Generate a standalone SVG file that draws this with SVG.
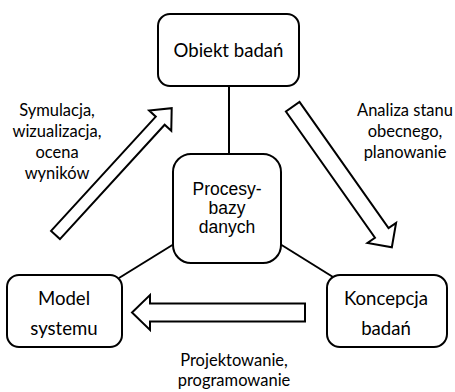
<svg xmlns="http://www.w3.org/2000/svg" width="455" height="392" viewBox="0 0 455 392">
  <style>
    .box { fill: #ffffff; stroke: #000000; stroke-width: 2; }
    .link { stroke: #000000; stroke-width: 2; fill: none; }
    .flow { fill: #ffffff; stroke: #000000; stroke-width: 2; stroke-linejoin: miter; }
    .lbl { font-family: Lato, "Liberation Sans", sans-serif; font-size: 16.5px; fill: #000000; text-anchor: middle; }
    .name { font-family: Lato, "Liberation Sans", sans-serif; font-size: 18.6px; fill: #000000; text-anchor: middle; }
    .core { font-family: "Liberation Sans", Arial, sans-serif; font-size: 17.5px; fill: #000000; text-anchor: middle; }
  </style>

  <g id="connectors">
    <line class="link" x1="229" y1="86" x2="229" y2="154"/>
    <line class="link" x1="174" y1="244" x2="119" y2="278"/>
    <line class="link" x1="280" y1="244" x2="333" y2="277"/>
  </g>

  <!-- block arrows, each drawn along +x from its tail and then turned into place -->
  <g id="flows">
    <polygon class="flow" transform="translate(55.5,235) rotate(-47.5)" points="0,-6 155,-6 155,-15 172,0 155,15 155,6 0,6"/>
    <polygon class="flow" transform="translate(292.7,106.7) rotate(54.8)" points="0,-8.3 154.5,-8.3 154.5,-17.5 172,0 154.5,17.5 154.5,8.3 0,8.3"/>
    <polygon class="flow" transform="translate(305,312.5) rotate(180)" points="0,-9 155,-9 155,-17.5 173,0 155,17.5 155,9 0,9"/>
  </g>

  <g id="obiekt">
    <rect class="box" x="158" y="14" width="141" height="72" rx="12"/>
    <text class="name" x="228.5" y="57">Obiekt badań</text>
  </g>

  <g id="procesy">
    <rect class="box" x="173" y="154" width="108" height="109" rx="18"/>
    <text class="core" x="227" y="195">Procesy-</text>
    <text class="core" x="227" y="214">bazy</text>
    <text class="core" x="227" y="233">danych</text>
  </g>

  <g id="model">
    <rect class="box" x="7" y="275" width="115" height="72" rx="12"/>
    <text class="name" x="64" y="305">Model</text>
    <text class="name" x="64" y="335">systemu</text>
  </g>

  <g id="koncepcja">
    <rect class="box" x="327" y="275" width="120" height="72" rx="13"/>
    <text class="name" x="386" y="305">Koncepcja</text>
    <text class="name" x="386" y="335">badań</text>
  </g>

  <g id="labels">
    <text class="lbl" x="57" y="116">Symulacja,</text>
    <text class="lbl" x="57" y="137">wizualizacja,</text>
    <text class="lbl" x="57" y="158">ocena</text>
    <text class="lbl" x="57" y="179">wyników</text>

    <text class="lbl" x="405" y="116">Analiza stanu</text>
    <text class="lbl" x="405" y="137">obecnego,</text>
    <text class="lbl" x="405" y="158">planowanie</text>

    <text class="lbl" x="234" y="366">Projektowanie,</text>
    <text class="lbl" x="234" y="386">programowanie</text>
  </g>
</svg>
